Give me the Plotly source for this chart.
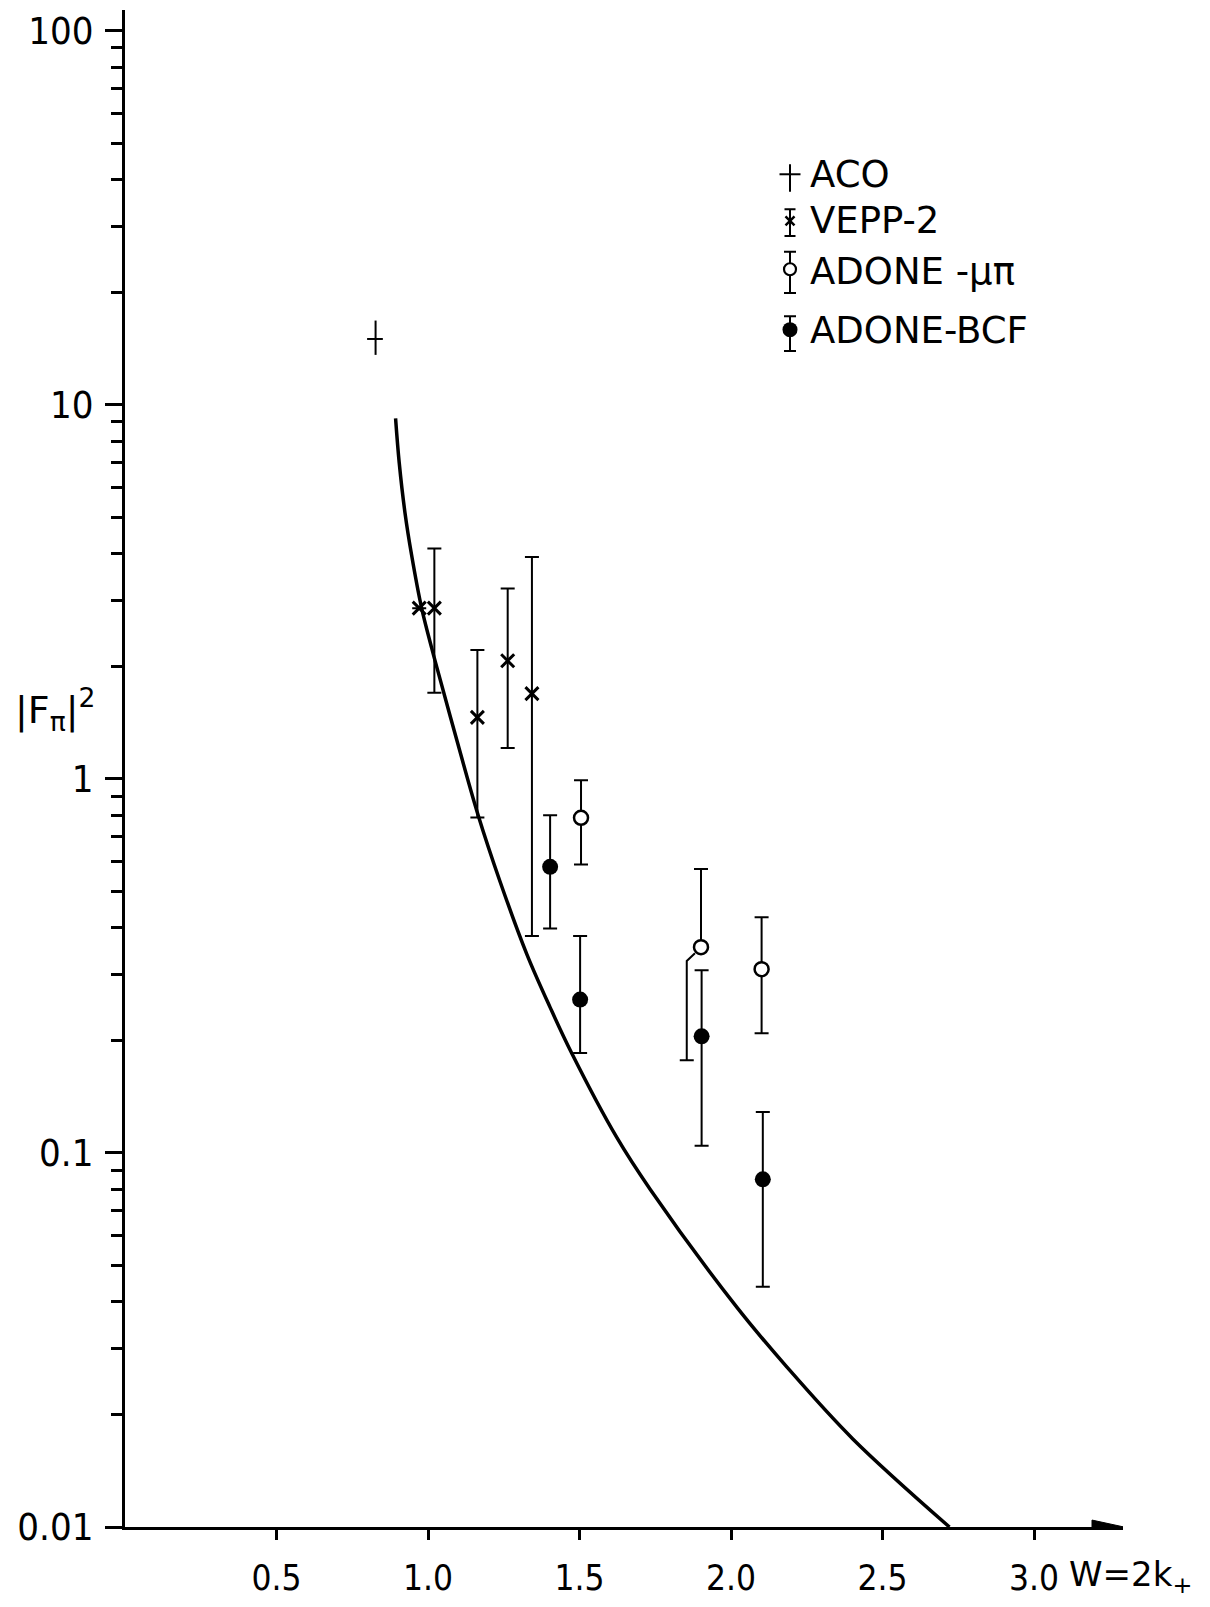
import plotly.graph_objects as go

# ---------------- data ----------------
# ACO (cross: error bars in both directions)
aco_w = [0.827]
aco_f = [15.0]
aco_f_hi = [16.8]
aco_f_lo = [13.6]
aco_w_lo = [0.799]
aco_w_hi = [0.851]

# VEPP-2
vepp_w = [0.971, 1.021, 1.163, 1.263, 1.343]
vepp_f = [2.86, 2.86, 1.46, 2.07, 1.69]
vepp_hi = [2.86, 4.13, 2.21, 3.23, 3.92]
vepp_lo = [2.86, 1.70, 0.789, 1.21, 0.380]

# ADONE - mu pi
mupi_w = [1.505, 1.901, 2.101]
mupi_f = [0.787, 0.355, 0.310]
mupi_hi = [0.992, 0.574, 0.427]
mupi_lo = [0.590, 0.177, 0.209]

# ADONE - BCF
bcf_w = [1.403, 1.502, 1.903, 2.105]
bcf_f = [0.582, 0.257, 0.205, 0.0850]
bcf_hi = [0.800, 0.380, 0.308, 0.1286]
bcf_lo = [0.398, 0.185, 0.1045, 0.0439]

# theoretical curve
curve_w = [0.893, 0.905, 0.924, 0.946, 0.979, 1.012, 1.029, 1.095, 1.166, 1.238,
           1.326, 1.403, 1.474, 1.623, 1.733, 2.019, 2.184, 2.402, 2.721]
curve_f = [9.20, 7.0, 5.15, 3.96, 2.86, 2.24, 1.99, 1.27, 0.797, 0.531,
           0.340, 0.245, 0.185, 0.110, 0.080, 0.0387, 0.0268, 0.0172, 0.0100]

# axis ticks
x_ticks = [0.5, 1.0, 1.5, 2.0, 2.5, 3.0]
x_ticktext = ["0.5", "1.0", "1.5", "2.0", "2.5", "3.0"]
y_ticks = [0.01, 0.1, 1, 10, 100]
y_ticktext = ["0.01", "0.1", "1", "10", "100"]

legend_names = ["ACO", "VEPP-2", "ADONE -\u03bc\u03c0", "ADONE-BCF"]

# ---------------- layout geometry ----------------
W, H = 1210, 1607
L, R, T, B = 125, 87, 9, 65
PX0, PX1 = L, W - R          # plot area in pixels
PY0, PY1 = T, H - B

NARROW = "Liberation Sans Narrow, DejaVu Sans Condensed, Arial Narrow, Liberation Sans, Arial, sans-serif"
SANS = "DejaVu Sans, Liberation Sans, sans-serif"


def pap_x(px):
    return (px - PX0) / (PX1 - PX0)


def pap_y(py):
    return (PY1 - py) / (PY1 - PY0)


BLACK = "black"
fig = go.Figure()

# curve
fig.add_trace(go.Scatter(x=curve_w, y=curve_f, mode="lines",
                         line=dict(color=BLACK, width=3.5, shape="spline", smoothing=1.0),
                         hoverinfo="skip", showlegend=False))

# ACO
fig.add_trace(go.Scatter(
    x=aco_w, y=aco_f, mode="markers", marker=dict(size=1, color=BLACK),
    error_y=dict(type="data", symmetric=False,
                 array=[h - f for h, f in zip(aco_f_hi, aco_f)],
                 arrayminus=[f - l for l, f in zip(aco_f_lo, aco_f)],
                 width=0, thickness=2, color=BLACK),
    error_x=dict(type="data", symmetric=False,
                 array=[h - w for h, w in zip(aco_w_hi, aco_w)],
                 arrayminus=[w - l for l, w in zip(aco_w_lo, aco_w)],
                 width=0, thickness=2, color=BLACK),
    showlegend=False))

# VEPP-2
fig.add_trace(go.Scatter(
    x=vepp_w, y=vepp_f, mode="markers",
    marker=dict(symbol="x-thin", size=13, line=dict(width=3, color=BLACK), color=BLACK),
    error_y=dict(type="data", symmetric=False,
                 array=[h - f for h, f in zip(vepp_hi, vepp_f)],
                 arrayminus=[f - l for l, f in zip(vepp_lo, vepp_f)],
                 width=7, thickness=2, color=BLACK),
    showlegend=False))

# ADONE mu-pi: lower bar of the 2nd point is drawn displaced to the left
DISP = 1
disp_dw = -0.047
mupi_minus = [f - l for l, f in zip(mupi_lo, mupi_f)]
mupi_minus_main = [0 if i == DISP else m for i, m in enumerate(mupi_minus)]
kink_f = mupi_f[DISP] * 0.918
fig.add_trace(go.Scatter(
    x=[mupi_w[DISP] - 0.020, mupi_w[DISP] + disp_dw, mupi_w[DISP] + disp_dw],
    y=[mupi_f[DISP] * 0.963, kink_f, mupi_lo[DISP]],
    mode="lines", line=dict(color=BLACK, width=2), showlegend=False, hoverinfo="skip"))
fig.add_trace(go.Scatter(
    x=[mupi_w[DISP] + disp_dw], y=[mupi_lo[DISP]], mode="markers",
    marker=dict(size=1, color=BLACK),
    error_y=dict(type="data", symmetric=False, array=[0], arrayminus=[0.0001],
                 width=7, thickness=2, color=BLACK),
    showlegend=False))
fig.add_trace(go.Scatter(
    x=mupi_w, y=mupi_f, mode="markers",
    marker=dict(symbol="circle", size=14, color="white", line=dict(width=2.5, color=BLACK)),
    error_y=dict(type="data", symmetric=False,
                 array=[h - f for h, f in zip(mupi_hi, mupi_f)],
                 arrayminus=mupi_minus_main,
                 width=7, thickness=2, color=BLACK),
    showlegend=False))

# ADONE BCF
fig.add_trace(go.Scatter(
    x=bcf_w, y=bcf_f, mode="markers",
    marker=dict(symbol="circle", size=16, color=BLACK, line=dict(width=0)),
    error_y=dict(type="data", symmetric=False,
                 array=[h - f for h, f in zip(bcf_hi, bcf_f)],
                 arrayminus=[f - l for l, f in zip(bcf_lo, bcf_f)],
                 width=7, thickness=2, color=BLACK),
    showlegend=False))

# ---------------- hand-made legend (pixel helper axes) ----------------
leg_x = 790
leg_y = [175, 222, 271, 332]
# ACO glyph
fig.add_trace(go.Scatter(
    x=[leg_x], y=[leg_y[0]], xaxis="x2", yaxis="y2", mode="markers",
    marker=dict(size=1, color=BLACK),
    error_x=dict(type="data", array=[10.5], width=0, thickness=2, color=BLACK),
    error_y=dict(type="data", symmetric=False, array=[17.7], arrayminus=[10],
                 width=0, thickness=2, color=BLACK),
    showlegend=False))
# VEPP glyph
fig.add_trace(go.Scatter(
    x=[leg_x], y=[leg_y[1]], xaxis="x2", yaxis="y2", mode="markers",
    marker=dict(symbol="x-thin", size=9, line=dict(width=2.5, color=BLACK), color=BLACK),
    error_y=dict(type="data", symmetric=False, array=[15.5], arrayminus=[11.7],
                 width=5.5, thickness=2, color=BLACK),
    showlegend=False))
# mu-pi glyph
fig.add_trace(go.Scatter(
    x=[leg_x], y=[leg_y[2]], xaxis="x2", yaxis="y2", mode="markers",
    marker=dict(symbol="circle", size=12, color="white", line=dict(width=2.2, color=BLACK)),
    error_y=dict(type="data", symmetric=False, array=[24], arrayminus=[17.7],
                 width=6, thickness=2, color=BLACK),
    showlegend=False))
# BCF glyph
fig.add_trace(go.Scatter(
    x=[leg_x], y=[leg_y[3]], xaxis="x2", yaxis="y2", mode="markers",
    marker=dict(symbol="circle", size=15, color=BLACK),
    error_y=dict(type="data", symmetric=False, array=[21.5], arrayminus=[13.5],
                 width=6, thickness=2, color=BLACK),
    showlegend=False))

annotations = []
for name, yy in zip(legend_names, [175, 222, 273, 333]):
    annotations.append(dict(x=pap_x(808), y=pap_y(yy), xref="paper", yref="paper",
                            text=name, showarrow=False, xanchor="left", yanchor="middle",
                            font=dict(family=SANS, size=37, color=BLACK)))

# axis titles
annotations.append(dict(x=pap_x(55), y=pap_y(716), xref="paper", yref="paper",
                        text="|F<sub>\u03c0</sub>|<sup>2</sup>", showarrow=False,
                        xanchor="center", yanchor="middle",
                        font=dict(family=SANS, size=38, color=BLACK)))
annotations.append(dict(x=pap_x(1067), y=pap_y(1592), xref="paper", yref="paper",
                        text="W=2k<sub>+</sub>", showarrow=False,
                        xanchor="left", yanchor="middle",
                        font=dict(family=SANS, size=34, color=BLACK)))

minor_vals = [m * 10 ** e for e in range(-2, 2) for m in range(2, 10)]

fig.update_layout(
    width=W, height=H, autosize=False,
    margin=dict(l=L, r=R, t=T, b=B, pad=0),
    paper_bgcolor="white", plot_bgcolor="white",
    showlegend=False,
    annotations=annotations,
    xaxis=dict(range=[0, (PX1 - PX0) / 303.0], showgrid=False, zeroline=False,
               showline=True, linecolor=BLACK, linewidth=3,
               ticks="outside", ticklen=10, tickwidth=2.5, tickcolor=BLACK,
               tickvals=x_ticks, ticktext=x_ticktext, ticklabelstandoff=8,
               tickfont=dict(family=NARROW, size=35, color=BLACK)),
    yaxis=dict(type="log", range=[-2, -2 + (PY1 - PY0) / 378.0], showgrid=False,
               zeroline=False, showline=True, linecolor=BLACK, linewidth=3,
               ticks="outside", ticklen=17, tickwidth=2.5, tickcolor=BLACK,
               tickvals=y_ticks, ticktext=y_ticktext, ticklabelstandoff=4,
               tickfont=dict(family=NARROW, size=38, color=BLACK),
               minor=dict(ticks="outside", ticklen=11, tickwidth=2.5, tickcolor=BLACK,
                          tickvals=minor_vals, showgrid=False)),
    xaxis2=dict(range=[PX0, PX1], overlaying="x", anchor="y2", visible=False),
    yaxis2=dict(range=[PY1, PY0], overlaying="y", anchor="x2", visible=False),
    shapes=[dict(type="path", xref="x2", yref="y2",
                 path=f"M {PX1-31} {PY1-7} L {PX1+1} {PY1} L {PX1-31} {PY1+7} Z",
                 fillcolor=BLACK, line=dict(color=BLACK, width=1), layer="above")],
)

fig.write_html("out.html")
